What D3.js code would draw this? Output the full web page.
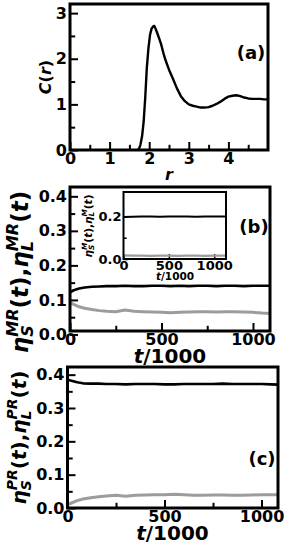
<!DOCTYPE html>
<html lang="en">
  <head>
    <meta charset="utf-8">
    <title>C(r) and eta(t)</title>
    <script src="https://cdn.jsdelivr.net/npm/d3@7/dist/d3.min.js"></script>
    <style>
      body { margin: 0; background: #fff; }
      text { font-family: "DejaVu Sans", sans-serif; font-weight: bold; fill: #000; }
    </style>
  </head>
  <body>
    <div id="chart"></div>
    <script type="text/javascript">
    (function(d3) {
      'use strict';

      // panel (a): C(r)
      var rVals = [1.70, 1.74, 1.78, 1.82, 1.86, 1.90, 1.94, 1.98, 2.02, 2.06, 2.10, 2.13, 2.16, 2.20,
        2.25, 2.30, 2.36, 2.42, 2.50, 2.60, 2.70, 2.80, 2.90, 3.00, 3.10, 3.20, 3.30, 3.40, 3.50,
        3.60, 3.70, 3.80, 3.90, 4.00, 4.10, 4.20, 4.30, 4.40, 4.50, 4.60, 4.70, 4.80, 4.90, 5.00];
      var cVals = [0.00, 0.02, 0.12, 0.30, 0.62, 1.15, 1.80, 2.22, 2.52, 2.66, 2.71, 2.72, 2.66, 2.57,
        2.45, 2.32, 2.12, 1.95, 1.76, 1.56, 1.35, 1.18, 1.07, 1.00, 0.97, 0.95, 0.93, 0.93, 0.94,
        0.97, 1.01, 1.06, 1.12, 1.17, 1.19, 1.20, 1.18, 1.15, 1.13, 1.12, 1.12, 1.12, 1.11, 1.11];

      // panel (b): MR, main and inset
      var tVals = [0, 20, 50, 80, 120, 160, 200, 250, 300, 350, 400, 450, 500, 550, 600, 650, 700,
        750, 800, 850, 900, 950, 1000, 1050, 1090];
      var etaLMR = [0.122, 0.128, 0.133, 0.136, 0.138, 0.139, 0.140, 0.140, 0.141, 0.140, 0.140, 0.141,
        0.141, 0.140, 0.141, 0.140, 0.141, 0.141, 0.140, 0.141, 0.141, 0.140, 0.141, 0.141, 0.141];
      var etaSMR = [0.092, 0.087, 0.080, 0.076, 0.072, 0.069, 0.067, 0.066, 0.071, 0.067, 0.066, 0.065,
        0.064, 0.063, 0.064, 0.065, 0.066, 0.066, 0.065, 0.066, 0.066, 0.065, 0.064, 0.062, 0.061];
      var tInset = [0, 100, 200, 300, 400, 500, 600, 700, 800, 900, 1000, 1100, 1130];
      var etaLM = [0.197, 0.199, 0.200, 0.200, 0.199, 0.200, 0.200, 0.200, 0.199, 0.200, 0.200, 0.200, 0.200];
      var etaSM = [0.017, 0.016, 0.016, 0.015, 0.016, 0.016, 0.015, 0.016, 0.016, 0.015, 0.016, 0.016, 0.016];

      // panel (c): PR
      var etaLPR = [0.385, 0.382, 0.377, 0.374, 0.373, 0.373, 0.372, 0.372, 0.371, 0.372, 0.372, 0.372,
        0.371, 0.371, 0.372, 0.372, 0.372, 0.372, 0.373, 0.372, 0.372, 0.372, 0.372, 0.371, 0.370];
      var etaSPR = [0.010, 0.015, 0.022, 0.027, 0.031, 0.034, 0.036, 0.038, 0.035, 0.038, 0.039, 0.040,
        0.040, 0.041, 0.040, 0.038, 0.038, 0.039, 0.039, 0.038, 0.038, 0.039, 0.040, 0.040, 0.040];

      // ticks
      var rTicks = [0, 1, 2, 3, 4];
      var rMinor = [0.5, 1.5, 2.5, 3.5, 4.5];
      var cTicks = [0, 1, 2, 3];
      var cMinor = [0.5, 1.5, 2.5];
      var tTicks = [0, 500, 1000];
      var tMinor = [250, 750];
      var etaTicks = [0, 0.1, 0.2, 0.3, 0.4];
      var etaMinor = [0.05, 0.15, 0.25, 0.35];
      var insetYTicks = [0, 0.2];
      var insetYMinor = [0.1];

      var gray = '#9c9c9c';

      var svg = d3.select('#chart').append('svg')
        .attr('width', 289).attr('height', 545);

      var clipId = 0;

      function panel(box, xDom, yDom, opt) {
        var x = d3.scaleLinear().domain(xDom).range([box.l, box.r]);
        var y = d3.scaleLinear().domain(yDom).range([box.b, box.t]);
        var g = svg.append('g');
        var id = 'clip' + (clipId++);
        g.append('clipPath').attr('id', id).append('rect')
          .attr('x', box.l).attr('y', box.t).attr('width', box.r - box.l).attr('height', box.b - box.t);
        var fs = opt.fs, tl = opt.tick, sw = opt.sw;

        function axes(gen, vals, size, fmt) {
          var a = g.append('g');
          a.call(gen.tickValues(vals).tickSize(-size).tickPadding(opt.pad).tickFormat(fmt));
          a.select('.domain').remove();
          a.selectAll('line').attr('stroke', '#000').attr('stroke-width', opt.tw);
          a.selectAll('text').attr('font-size', fs).attr('font-family', '"DejaVu Sans"').attr('font-weight', 'bold');
          return a;
        }
        axes(d3.axisBottom(x), opt.xt, tl, opt.xf).attr('transform', 'translate(0,' + box.b + ')');
        axes(d3.axisBottom(x), opt.xm, tl * 0.65, '').attr('transform', 'translate(0,' + box.b + ')');
        axes(d3.axisLeft(y), opt.yt, tl, opt.yf).attr('transform', 'translate(' + box.l + ',0)');
        axes(d3.axisLeft(y), opt.ym, tl * 0.65, '').attr('transform', 'translate(' + box.l + ',0)');

        var lines = g.append('g').attr('clip-path', 'url(#' + id + ')');
        g.append('rect').attr('x', box.l).attr('y', box.t)
          .attr('width', box.r - box.l).attr('height', box.b - box.t)
          .attr('fill', 'none').attr('stroke', '#000').attr('stroke-width', sw);
        return { x: x, y: y, lines: lines };
      }

      function drawLine(p, xs, ys, color, w) {
        var line = d3.line().x(function(d, i) { return p.x(xs[i]); }).y(function(d) { return p.y(d); });
        p.lines.append('path').datum(ys).attr('d', line)
          .attr('fill', 'none').attr('stroke', color).attr('stroke-width', w)
          .attr('stroke-linejoin', 'round');
      }

      // pieces: {t, i} for text; {sub, sup} for stacked scripts
      function mathText(cx, cy, rot, pieces, fs) {
        var g = svg.append('g').attr('transform', 'translate(' + cx + ',' + cy + ') rotate(' + rot + ')');
        var x = 0;
        pieces.forEach(function(p) {
          if (p.sub !== undefined || p.sup !== undefined) {
            var s = fs * 0.7, w = 0;
            if (p.sub) {
              var a = g.append('text').attr('x', x).attr('y', fs * 0.22).attr('font-size', s)
                .style('font-style', 'italic').text(p.sub);
              w = Math.max(w, a.node().getComputedTextLength());
            }
            if (p.sup) {
              var b = g.append('text').attr('x', x).attr('y', -fs * 0.45).attr('font-size', s)
                .style('font-style', 'italic').text(p.sup);
              w = Math.max(w, b.node().getComputedTextLength());
            }
            x += w;
          } else {
            var t = g.append('text').attr('x', x).attr('font-size', fs)
              .style('font-style', p.i ? 'italic' : 'normal').text(p.t);
            x += t.node().getComputedTextLength();
          }
        });
        g.selectAll('text').attr('x', function() { return +this.getAttribute('x') - x / 2; })
          .attr('y', function() { return +(this.getAttribute('y') || 0) + fs * 0.36; });
        return g;
      }

      function etaLabel(s, sup) {
        return [{ t: 'η', i: true }, { sub: s, sup: sup }, { t: '(' }, { t: 't', i: true }, { t: ')' }];
      }

      var fmt1 = d3.format('.1f'), fmt0 = d3.format('d');
      var main = { fs: 16, tick: 8, sw: 3, tw: 2, pad: 3 };

      // (a)
      var pa = panel({ l: 70, r: 268, t: 4, b: 150 }, [0, 5], [0, 3.2],
        Object.assign({ xt: rTicks, xm: rMinor, yt: cTicks, ym: cMinor, xf: fmt0, yf: fmt0 }, main));
      drawLine(pa, rVals, cVals, '#000', 2.4);
      mathText(45, 77, -90, [{ t: 'C', i: true }, { t: '(' }, { t: 'r', i: true }, { t: ')' }], 16);
      mathText(169, 174, 0, [{ t: 'r', i: true }], 16);
      svg.append('text').attr('x', 251).attr('y', 59).attr('text-anchor', 'middle').attr('font-size', 18).text('(a)');

      // (b)
      var pb = panel({ l: 70, r: 270, t: 187, b: 331 }, [0, 1093], [0.01, 0.427],
        Object.assign({ xt: tTicks, xm: tMinor, yt: etaTicks, ym: etaMinor, xf: fmt0, yf: fmt1 }, main));
      drawLine(pb, tVals, etaSMR, gray, 3);
      drawLine(pb, tVals, etaLMR, '#000', 2.6);
      mathText(20, 272, -90, etaLabel('S', 'MR').concat([{ t: ', ' }], etaLabel('L', 'MR')), 23);
      mathText(170, 356, 0, [{ t: 't', i: true }, { t: '/1000' }], 20);
      svg.append('text').attr('x', 254).attr('y', 233).attr('text-anchor', 'middle').attr('font-size', 18).text('(b)');

      // inset of (b)
      svg.append('rect').attr('x', 123.5).attr('y', 192).attr('width', 102.5).attr('height', 67).attr('fill', '#fff');
      var pi = panel({ l: 123.5, r: 226, t: 192, b: 259 }, [0, 1130], [0, 0.315],
        { xt: tTicks, xm: [], yt: insetYTicks, ym: insetYMinor, xf: fmt0, yf: fmt1,
          fs: 13, tick: 5, sw: 2, tw: 1.5, pad: 2 });
      drawLine(pi, tInset, etaSM, gray, 2.2);
      drawLine(pi, tInset, etaLM, '#000', 2);
      mathText(88, 226, -90, etaLabel('S', 'M').concat([{ t: ', ' }], etaLabel('L', 'M')), 10.5);
      mathText(175, 276, 0, [{ t: 't', i: true }, { t: '/1000' }], 10.5);

      // (c)
      var pc = panel({ l: 67.5, r: 278, t: 367, b: 508 }, [0, 1085], [0, 0.423],
        Object.assign({ xt: tTicks, xm: tMinor, yt: etaTicks, ym: etaMinor, xf: fmt0, yf: fmt1 }, main));
      drawLine(pc, tVals, etaSPR, gray, 3);
      drawLine(pc, tVals, etaLPR, '#000', 2.6);
      mathText(19, 437.5, -90, etaLabel('S', 'PR').concat([{ t: ', ' }], etaLabel('L', 'PR')), 20);
      mathText(172.5, 533, 0, [{ t: 't', i: true }, { t: '/1000' }], 20);
      svg.append('text').attr('x', 262).attr('y', 465).attr('text-anchor', 'middle').attr('font-size', 18).text('(c)');

    })(window.d3);
    </script>
  </body>
</html>
